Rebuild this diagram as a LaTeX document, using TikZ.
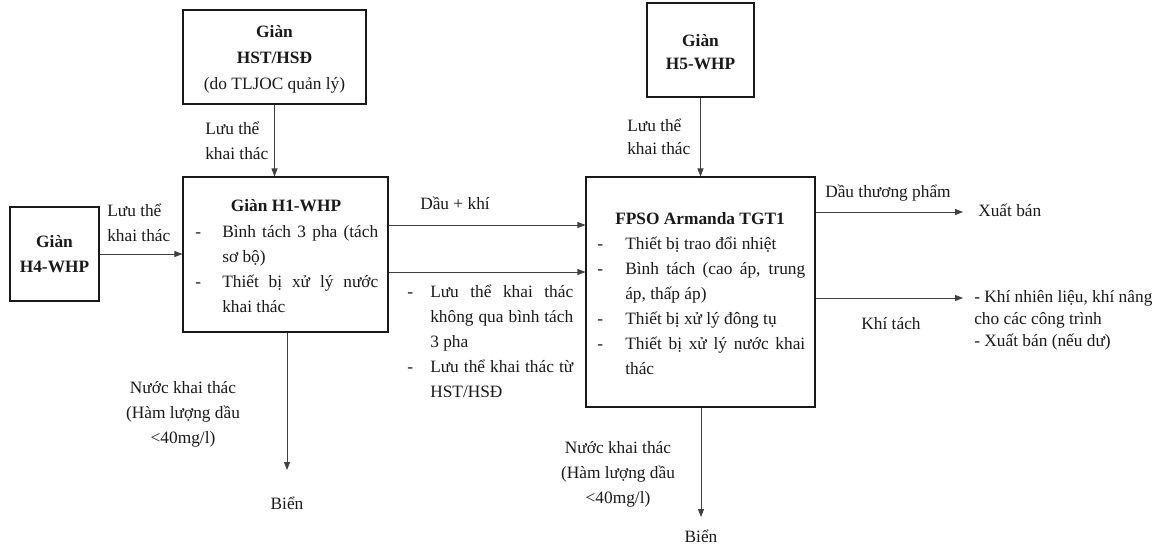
\documentclass[tikz,border=0pt]{standalone}
\usepackage{fontspec}
\setmainfont{Liberation Serif}
\usetikzlibrary{arrows.meta}
\newcommand\mybox[3]{\parbox[t]{#1}{\fontsize{13}{#2}\selectfont\emergencystretch=1em #3}}
\newcommand\myctr[3]{\parbox[t]{#1}{\centering\fontsize{13}{#2}\selectfont #3}}
\newcommand\myitem[2]{\par\noindent\hangindent=#1\hangafter=1\makebox[#1][l]{-}\ignorespaces #2\par}
\begin{document}
\begin{tikzpicture}[x=0.75pt,y=-0.75pt,
  box/.style={draw=black!90, line width=0.8pt, inner sep=0pt},
  txt/.style={inner sep=0pt, text=black!90},
  flow/.style={-{Triangle[length=6pt,width=4.5pt]}, line width=0.6pt, draw=black!75}]
\useasboundingbox (0,0) rectangle (1162,548);
% boxes
\node[box, minimum width=183*0.75pt, minimum height=94*0.75pt] (hst) at (274.5,57) {};
\node[box, minimum width=205*0.75pt, minimum height=155*0.75pt] (h1) at (285.5,254.5) {};
\node[box, minimum width=89*0.75pt, minimum height=94*0.75pt] (h4) at (54.5,254) {};
\node[box, minimum width=107*0.75pt, minimum height=94*0.75pt] (h5) at (700.5,50) {};
\node[box, minimum width=229*0.75pt, minimum height=230*0.75pt] (fpso) at (700.5,292) {};
% box texts
\node[txt, anchor=base] (thst) at (274.5,38) {\myctr{170pt}{19.5pt}{\textbf{Giàn}\\\textbf{HST/HSĐ}\\(do TLJOC quản lý)}};
\node[txt, anchor=base] (th4) at (54.5,248) {\myctr{64pt}{18.75pt}{\textbf{Giàn}\\\textbf{H4-WHP}}};
\node[txt, anchor=base] (th5) at (700.5,47) {\myctr{78pt}{17.25pt}{\textbf{Giàn}\\\textbf{H5-WHP}}};
\node[txt, anchor=base] (th1t) at (286,212) {\fontsize{13}{18.75}\selectfont\textbf{Giàn H1-WHP}};
\node[txt, anchor=base west] (th1) at (195,238) {\mybox{137.25pt}{18.75pt}{%
  \myitem{20.25pt}{Bình tách 3 pha (tách\linebreak sơ bộ)}%
  \myitem{20.25pt}{Thiết bị xử lý nước\linebreak khai thác}}};
\node[txt, anchor=base] (tfpt) at (700,225) {\fontsize{13}{18.75}\selectfont\textbf{FPSO Armanda TGT1}};
\node[txt, anchor=base west] (tfp) at (597,250) {\mybox{156pt}{18.75pt}{%
  \myitem{21pt}{Thiết bị trao đổi nhiệt}%
  \myitem{21pt}{Bình tách (cao áp, trung\linebreak áp, thấp áp)}%
  \myitem{21pt}{Thiết bị xử lý đông tụ}%
  \myitem{21pt}{Thiết bị xử lý nước khai\linebreak thác}}};
% labels
\node[txt, anchor=base west] (lhst) at (205,135) {\mybox{70pt}{18.75pt}{Lưu thể\\khai thác}};
\node[txt, anchor=base west] (lh4) at (107,217) {\mybox{70pt}{18.75pt}{Lưu thể\\khai thác}};
\node[txt, anchor=base west] (lh5) at (627,132) {\mybox{70pt}{17.25pt}{Lưu thể\\khai thác}};
\node[txt, anchor=base west] (ldk) at (420,210) {\fontsize{13}{18.75}\selectfont Dầu + khí};
\node[txt, anchor=base west] (llst) at (407,298) {\mybox{124.5pt}{18.75pt}{%
  \myitem{17.25pt}{Lưu thể khai thác\linebreak không qua bình tách\linebreak 3 pha}%
  \myitem{17.25pt}{Lưu thể khai thác từ\linebreak HST/HSĐ}}};
\node[txt, anchor=base west] (ldtp) at (825,198) {\fontsize{13}{18.75}\selectfont Dầu thương phẩm};
\node[txt, anchor=base west] (xb) at (978,217) {\fontsize{13}{18.75}\selectfont Xuất bán};
\node[txt, anchor=base] (lkt) at (891,330) {\fontsize{13}{18.75}\selectfont Khí tách};
\node[txt, anchor=base west] (kt) at (974,303) {\parbox[t]{150pt}{\raggedright\fontsize{13}{16.5pt}\selectfont - Khí nhiên liệu, khí nâng\\cho các công trình\\- Xuất bán (nếu dư)}};
\node[txt, anchor=base] (lnk1) at (183,393) {\myctr{110pt}{18.75pt}{Nước khai thác\\(Hàm lượng dầu\\<40mg/l)}};
\node[txt, anchor=base] (lnk2) at (618,453) {\myctr{110pt}{18.75pt}{Nước khai thác\\(Hàm lượng dầu\\<40mg/l)}};
\node[txt, anchor=base] (bien1) at (287,509) {\fontsize{13}{18.75}\selectfont Biển};
\node[txt, anchor=base] (bien2) at (701,542) {\fontsize{13}{18.75}\selectfont Biển};
% arrow end points
\coordinate (xbp) at (963,212);
\coordinate (ktp) at (963,298);
\coordinate (b1) at (287,470);
\coordinate (b2) at (701,517);
\coordinate (r1) at (0,225);
\coordinate (r2) at (0,272);
% connectors
\draw[flow] (hst.south) -- (hst.south |- h1.north);
\draw[flow] (h4.east) -- (h4.east -| h1.west);
\draw[flow] (h5.south) -- (h5.south |- fpso.north);
\draw[flow] (h1.east |- r1) -- (fpso.west |- r1);
\draw[flow] (h1.east |- r2) -- (fpso.west |- r2);
\draw[flow] (fpso.east |- xbp) -- (xbp);
\draw[flow] (fpso.east |- ktp) -- (ktp);
\draw[flow] (b1 |- h1.south) -- (b1);
\draw[flow] (b2 |- fpso.south) -- (b2);
\end{tikzpicture}
\end{document}
